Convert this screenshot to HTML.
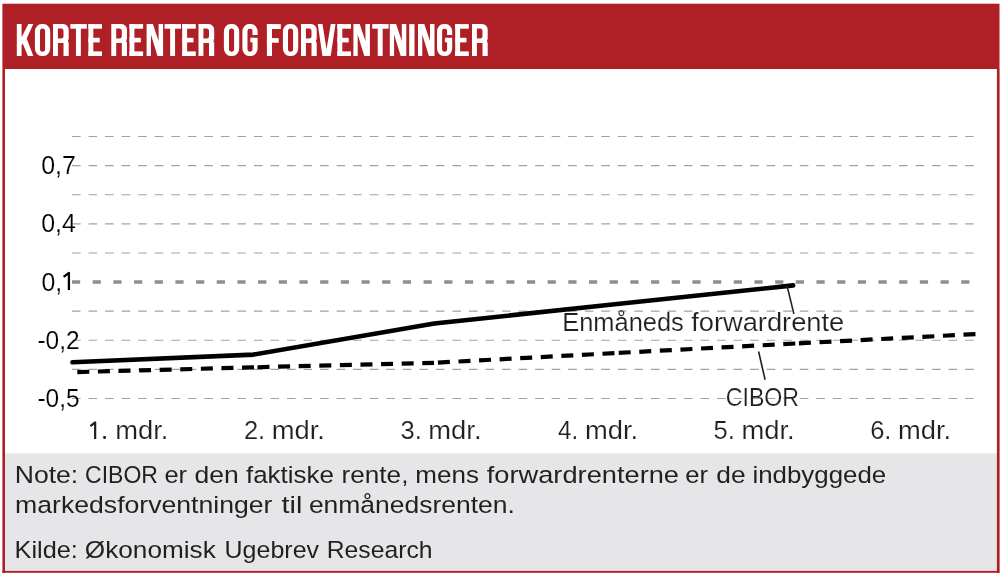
<!DOCTYPE html>
<html><head><meta charset="utf-8"><style>
html,body{margin:0;padding:0;background:#fff;width:1000px;height:574px;overflow:hidden}
svg{display:block;will-change:transform}
text{font-family:"Liberation Sans",sans-serif}
</style></head><body>
<svg width="1000" height="574" viewBox="0 0 1000 574">
<rect x="2.4" y="3.7" width="997.1" height="65.3" fill="#af1f26"/>
<rect x="5" y="453.3" width="992" height="117.7" fill="#e6e6e8"/>
<rect x="2.4" y="69" width="2.6" height="503.8" fill="#af1f26"/>
<rect x="996.9" y="69" width="2.7" height="503.8" fill="#af1f26"/>
<rect x="2.4" y="570.9" width="996.9" height="1.9" fill="#af1f26"/>
<g shape-rendering="geometricPrecision"><polygon points="16.80,24.10 21.60,24.10 21.60,37.30 28.30,24.10 33.30,24.10 26.70,38.40 33.30,56.00 27.90,56.00 22.70,43.60 21.60,45.60 21.60,56.00 16.80,56.00" fill="#fff"/><path d="M41.50 24.10H43.60A6.60 7.50 0 0 1 50.20 31.60V48.50A6.60 7.50 0 0 1 43.60 56.00H41.50A6.60 7.50 0 0 1 34.90 48.50V31.60A6.60 7.50 0 0 1 41.50 24.10ZM42.55 28.40H42.55A2.55 2.80 0 0 1 45.10 31.20V49.00A2.55 2.80 0 0 1 42.55 51.80H42.55A2.55 2.80 0 0 1 40.00 49.00V31.20A2.55 2.80 0 0 1 42.55 28.40Z" fill="#fff" fill-rule="evenodd"/><path d="M53.00 24.10H63.20A5.5 5.5 0 0 1 68.70 29.60V56.00H53.00ZM57.90 28.60H61.20A2.3 2.3 0 0 1 63.50 30.90V36.30A2.3 2.3 0 0 1 61.20 38.60H57.90Z" fill="#fff" fill-rule="evenodd"/><rect x="57.90" y="43.00" width="5.60" height="13.50" fill="#af1f26"/><rect x="68.10" y="39.50" width="1.00" height="2.80" fill="#af1f26"/><rect x="70.40" y="24.10" width="16.40" height="4.60" fill="#fff"/><rect x="75.95" y="24.10" width="4.90" height="31.90" fill="#fff"/><rect x="88.40" y="24.10" width="4.90" height="31.90" fill="#fff"/><rect x="88.40" y="24.10" width="13.60" height="4.60" fill="#fff"/><rect x="88.40" y="37.80" width="11.30" height="4.60" fill="#fff"/><rect x="88.40" y="51.40" width="13.60" height="4.60" fill="#fff"/><path d="M111.30 24.10H121.50A5.5 5.5 0 0 1 127.00 29.60V56.00H111.30ZM116.20 28.60H119.50A2.3 2.3 0 0 1 121.80 30.90V36.30A2.3 2.3 0 0 1 119.50 38.60H116.20Z" fill="#fff" fill-rule="evenodd"/><rect x="116.20" y="43.00" width="5.60" height="13.50" fill="#af1f26"/><rect x="126.40" y="39.50" width="1.00" height="2.80" fill="#af1f26"/><rect x="129.50" y="24.10" width="4.90" height="31.90" fill="#fff"/><rect x="129.50" y="24.10" width="13.60" height="4.60" fill="#fff"/><rect x="129.50" y="37.80" width="11.30" height="4.60" fill="#fff"/><rect x="129.50" y="51.40" width="13.60" height="4.60" fill="#fff"/><polygon points="146.60,24.10 152.90,24.10 158.60,40.90 158.60,24.10 163.10,24.10 163.10,56.00 157.50,56.00 150.90,34.60 150.90,56.00 146.60,56.00" fill="#fff"/><rect x="164.60" y="24.10" width="16.40" height="4.60" fill="#fff"/><rect x="170.15" y="24.10" width="4.90" height="31.90" fill="#fff"/><rect x="182.20" y="24.10" width="4.90" height="31.90" fill="#fff"/><rect x="182.20" y="24.10" width="13.60" height="4.60" fill="#fff"/><rect x="182.20" y="37.80" width="11.30" height="4.60" fill="#fff"/><rect x="182.20" y="51.40" width="13.60" height="4.60" fill="#fff"/><path d="M198.50 24.10H208.70A5.5 5.5 0 0 1 214.20 29.60V56.00H198.50ZM203.40 28.60H206.70A2.3 2.3 0 0 1 209.00 30.90V36.30A2.3 2.3 0 0 1 206.70 38.60H203.40Z" fill="#fff" fill-rule="evenodd"/><rect x="203.40" y="43.00" width="5.60" height="13.50" fill="#af1f26"/><rect x="213.60" y="39.50" width="1.00" height="2.80" fill="#af1f26"/><path d="M230.50 24.10H232.60A6.60 7.50 0 0 1 239.20 31.60V48.50A6.60 7.50 0 0 1 232.60 56.00H230.50A6.60 7.50 0 0 1 223.90 48.50V31.60A6.60 7.50 0 0 1 230.50 24.10ZM231.55 28.40H231.55A2.55 2.80 0 0 1 234.10 31.20V49.00A2.55 2.80 0 0 1 231.55 51.80H231.55A2.55 2.80 0 0 1 229.00 49.00V31.20A2.55 2.80 0 0 1 231.55 28.40Z" fill="#fff" fill-rule="evenodd"/><path d="M249.00 24.10H251.00A6.60 7.50 0 0 1 257.60 31.60V48.50A6.60 7.50 0 0 1 251.00 56.00H249.00A6.60 7.50 0 0 1 242.40 48.50V31.60A6.60 7.50 0 0 1 249.00 24.10ZM250.05 28.40H249.95A2.55 2.80 0 0 1 252.50 31.20V49.00A2.55 2.80 0 0 1 249.95 51.80H250.05A2.55 2.80 0 0 1 247.50 49.00V31.20A2.55 2.80 0 0 1 250.05 28.40Z" fill="#fff" fill-rule="evenodd"/><rect x="252.20" y="35.00" width="5.80" height="2.80" fill="#af1f26"/><rect x="250.30" y="37.80" width="3.40" height="4.50" fill="#fff"/><rect x="266.90" y="24.10" width="5.10" height="31.90" fill="#fff"/><rect x="266.90" y="24.10" width="13.90" height="4.90" fill="#fff"/><rect x="266.90" y="38.10" width="11.80" height="4.60" fill="#fff"/><path d="M289.50 24.10H291.60A6.60 7.50 0 0 1 298.20 31.60V48.50A6.60 7.50 0 0 1 291.60 56.00H289.50A6.60 7.50 0 0 1 282.90 48.50V31.60A6.60 7.50 0 0 1 289.50 24.10ZM290.55 28.40H290.55A2.55 2.80 0 0 1 293.10 31.20V49.00A2.55 2.80 0 0 1 290.55 51.80H290.55A2.55 2.80 0 0 1 288.00 49.00V31.20A2.55 2.80 0 0 1 290.55 28.40Z" fill="#fff" fill-rule="evenodd"/><path d="M301.00 24.10H311.20A5.5 5.5 0 0 1 316.70 29.60V56.00H301.00ZM305.90 28.60H309.20A2.3 2.3 0 0 1 311.50 30.90V36.30A2.3 2.3 0 0 1 309.20 38.60H305.90Z" fill="#fff" fill-rule="evenodd"/><rect x="305.90" y="43.00" width="5.60" height="13.50" fill="#af1f26"/><rect x="316.10" y="39.50" width="1.00" height="2.80" fill="#af1f26"/><polygon points="317.80,24.10 322.50,24.10 326.50,49.30 330.80,24.10 335.50,24.10 330.70,56.00 322.40,56.00" fill="#fff"/><rect x="337.40" y="24.10" width="4.90" height="31.90" fill="#fff"/><rect x="337.40" y="24.10" width="13.60" height="4.60" fill="#fff"/><rect x="337.40" y="37.80" width="11.30" height="4.60" fill="#fff"/><rect x="337.40" y="51.40" width="13.60" height="4.60" fill="#fff"/><polygon points="353.40,24.10 359.70,24.10 365.40,40.90 365.40,24.10 369.90,24.10 369.90,56.00 364.30,56.00 357.70,34.60 357.70,56.00 353.40,56.00" fill="#fff"/><rect x="372.20" y="24.10" width="16.40" height="4.60" fill="#fff"/><rect x="377.75" y="24.10" width="4.90" height="31.90" fill="#fff"/><polygon points="389.80,24.10 396.10,24.10 401.80,40.90 401.80,24.10 406.30,24.10 406.30,56.00 400.70,56.00 394.10,34.60 394.10,56.00 389.80,56.00" fill="#fff"/><rect x="409.20" y="24.10" width="5.30" height="31.90" fill="#fff"/><polygon points="418.00,24.10 424.30,24.10 430.00,40.90 430.00,24.10 434.50,24.10 434.50,56.00 428.90,56.00 422.30,34.60 422.30,56.00 418.00,56.00" fill="#fff"/><path d="M443.60 24.10H445.60A6.60 7.50 0 0 1 452.20 31.60V48.50A6.60 7.50 0 0 1 445.60 56.00H443.60A6.60 7.50 0 0 1 437.00 48.50V31.60A6.60 7.50 0 0 1 443.60 24.10ZM444.65 28.40H444.55A2.55 2.80 0 0 1 447.10 31.20V49.00A2.55 2.80 0 0 1 444.55 51.80H444.65A2.55 2.80 0 0 1 442.10 49.00V31.20A2.55 2.80 0 0 1 444.65 28.40Z" fill="#fff" fill-rule="evenodd"/><rect x="446.80" y="35.00" width="5.80" height="2.80" fill="#af1f26"/><rect x="444.90" y="37.80" width="3.40" height="4.50" fill="#fff"/><rect x="455.20" y="24.10" width="4.90" height="31.90" fill="#fff"/><rect x="455.20" y="24.10" width="13.60" height="4.60" fill="#fff"/><rect x="455.20" y="37.80" width="11.30" height="4.60" fill="#fff"/><rect x="455.20" y="51.40" width="13.60" height="4.60" fill="#fff"/><path d="M472.00 24.10H482.20A5.5 5.5 0 0 1 487.70 29.60V56.00H472.00ZM476.90 28.60H480.20A2.3 2.3 0 0 1 482.50 30.90V36.30A2.3 2.3 0 0 1 480.20 38.60H476.90Z" fill="#fff" fill-rule="evenodd"/><rect x="476.90" y="43.00" width="5.60" height="13.50" fill="#af1f26"/><rect x="487.10" y="39.50" width="1.00" height="2.80" fill="#af1f26"/></g>
<line x1="72" y1="136.55" x2="974" y2="136.55" stroke="#a2a2a2" stroke-width="1.1" stroke-dasharray="8.6 7.94"/>
<line x1="72" y1="165.65" x2="974" y2="165.65" stroke="#a2a2a2" stroke-width="1.1" stroke-dasharray="8.6 7.94"/>
<line x1="72" y1="194.75" x2="974" y2="194.75" stroke="#a2a2a2" stroke-width="1.1" stroke-dasharray="8.6 7.94"/>
<line x1="72" y1="223.85" x2="974" y2="223.85" stroke="#a2a2a2" stroke-width="1.1" stroke-dasharray="8.6 7.94"/>
<line x1="72" y1="252.95" x2="974" y2="252.95" stroke="#a2a2a2" stroke-width="1.1" stroke-dasharray="8.6 7.94"/>
<line x1="72" y1="282.05" x2="970" y2="282.05" stroke="#8e8e8e" stroke-width="3.4" stroke-dasharray="8.2 12.48"/>
<line x1="72" y1="311.15" x2="974" y2="311.15" stroke="#a2a2a2" stroke-width="1.1" stroke-dasharray="8.6 7.94"/>
<line x1="72" y1="340.25" x2="974" y2="340.25" stroke="#a2a2a2" stroke-width="1.1" stroke-dasharray="8.6 7.94"/>
<line x1="72" y1="369.35" x2="974" y2="369.35" stroke="#a2a2a2" stroke-width="1.1" stroke-dasharray="8.6 7.94"/>
<line x1="72" y1="398.45" x2="974" y2="398.45" stroke="#a2a2a2" stroke-width="1.1" stroke-dasharray="8.6 7.94"/>

<polyline points="72.5,362.3 253.5,354.6 434.3,323.5 614.8,304.3 793.2,285.4" fill="none" stroke="#000" stroke-width="4.6" stroke-linecap="round" stroke-linejoin="round"/>
<path d="M77.30 372.07 L255.00 367.30" stroke="#000" stroke-width="4.2" fill="none" stroke-dasharray="12 8.6"/>
<path d="M257.50 367.24 L434.00 362.80" stroke="#000" stroke-width="4.2" fill="none" stroke-dasharray="12 8.6"/>
<path d="M437.90 362.59 L614.80 353.10" stroke="#000" stroke-width="4.2" fill="none" stroke-dasharray="12 8.6"/>
<path d="M618.70 352.89 L795.40 343.50" stroke="#000" stroke-width="4.2" fill="none" stroke-dasharray="12 8.6"/>
<path d="M798.90 343.32 L976.80 334.00" stroke="#000" stroke-width="4.2" fill="none" stroke-dasharray="12 8.6"/>

<line x1="787" y1="285.6" x2="793.9" y2="313.9" stroke="#231f20" stroke-width="1.6"/>
<line x1="758.6" y1="351.5" x2="765.1" y2="379.7" stroke="#231f20" stroke-width="1.6"/>
<g font-size="25.5" fill="#000" text-anchor="middle" stroke="#fff" stroke-width="0.15">
<text x="58.5" y="174.3" textLength="34.7" lengthAdjust="spacingAndGlyphs">0,7</text>
<text x="58.5" y="232.45" textLength="34.7" lengthAdjust="spacingAndGlyphs">0,4</text>
<text text-anchor="start" x="41.5" y="290.5" textLength="20.69" lengthAdjust="spacingAndGlyphs">0,</text><path d="M63.6 276.9 L68.9 272.9 V290" stroke="#000" stroke-width="2.3" fill="none" stroke-linejoin="round"/>
<text x="58.5" y="348.75" textLength="42.1" lengthAdjust="spacingAndGlyphs">-0,2</text>
<text x="58.5" y="406.9" textLength="42.1" lengthAdjust="spacingAndGlyphs">-0,5</text>
</g>
<g font-size="25.5" fill="#231f20" stroke="#fff" stroke-width="0.15">
<path d="M90.4 426.2 L95.15 422.4 V438.9" stroke="#231f20" stroke-width="2.2" fill="none" stroke-linejoin="round"/><rect x="103.1" y="436" width="2.9" height="2.9" rx="1.1" fill="#231f20" stroke="none"/><text x="115.22" y="439.1" textLength="53.18" lengthAdjust="spacingAndGlyphs">mdr.</text>
<text x="243.95" y="439.1" textLength="21.28" lengthAdjust="spacingAndGlyphs">2.</text><text x="271.78" y="439.1" textLength="53.18" lengthAdjust="spacingAndGlyphs">mdr.</text>
<text x="400.5" y="439.1" textLength="21.28" lengthAdjust="spacingAndGlyphs">3.</text><text x="428.34" y="439.1" textLength="53.18" lengthAdjust="spacingAndGlyphs">mdr.</text>
<text x="558.1" y="439.1" textLength="20.16" lengthAdjust="spacingAndGlyphs">4.</text><text x="584.90" y="439.1" textLength="53.18" lengthAdjust="spacingAndGlyphs">mdr.</text>
<text x="713.6" y="439.1" textLength="21.28" lengthAdjust="spacingAndGlyphs">5.</text><text x="741.46" y="439.1" textLength="53.18" lengthAdjust="spacingAndGlyphs">mdr.</text>
<text x="870.2" y="439.1" textLength="21.28" lengthAdjust="spacingAndGlyphs">6.</text><text x="898.02" y="439.1" textLength="53.18" lengthAdjust="spacingAndGlyphs">mdr.</text>
</g>
<g font-size="25" fill="#231f20" stroke="#fff" stroke-width="0.15">
<text x="562.27" y="331.3" textLength="121.47" lengthAdjust="spacingAndGlyphs">Enmåneds</text><text x="691.2" y="331.3" textLength="153.09" lengthAdjust="spacingAndGlyphs">forwardrente</text>
<text x="725.77" y="405.8" textLength="73.33" lengthAdjust="spacingAndGlyphs">CIBOR</text>
</g>
<g font-size="24.3" fill="#231f20">
<text x="14.81" y="483.1" textLength="63.46" lengthAdjust="spacingAndGlyphs">Note:</text><text x="85.05" y="483.1" textLength="72.85" lengthAdjust="spacingAndGlyphs">CIBOR</text><text x="164.45" y="483.1" textLength="22.64" lengthAdjust="spacingAndGlyphs">er</text><text x="194.41" y="483.1" textLength="44.28" lengthAdjust="spacingAndGlyphs">den</text><text x="246.00" y="483.1" textLength="87.90" lengthAdjust="spacingAndGlyphs">faktiske</text><text x="341.62" y="483.1" textLength="66.80" lengthAdjust="spacingAndGlyphs">rente,</text><text x="415.33" y="483.1" textLength="63.62" lengthAdjust="spacingAndGlyphs">mens</text><text x="486.80" y="483.1" textLength="192.18" lengthAdjust="spacingAndGlyphs">forwardrenterne</text><text x="685.34" y="483.1" textLength="22.84" lengthAdjust="spacingAndGlyphs">er</text><text x="716.32" y="483.1" textLength="29.30" lengthAdjust="spacingAndGlyphs">de</text><text x="752.44" y="483.1" textLength="133.76" lengthAdjust="spacingAndGlyphs">indbyggede</text>
<text x="15.10" y="513.1" textLength="257.40" lengthAdjust="spacingAndGlyphs">markedsforventninger</text><text x="281.50" y="513.1" textLength="20.84" lengthAdjust="spacingAndGlyphs">til</text><text x="308.91" y="513.1" textLength="205.89" lengthAdjust="spacingAndGlyphs">enmånedsrenten.</text>
<text x="14.52" y="557.6" textLength="63.34" lengthAdjust="spacingAndGlyphs">Kilde:</text><text x="84.82" y="557.6" textLength="130.95" lengthAdjust="spacingAndGlyphs">Økonomisk</text><text x="224.57" y="557.6" textLength="94.47" lengthAdjust="spacingAndGlyphs">Ugebrev</text><text x="326.77" y="557.6" textLength="105.75" lengthAdjust="spacingAndGlyphs">Research</text>
</g>
</svg>
</body></html>
